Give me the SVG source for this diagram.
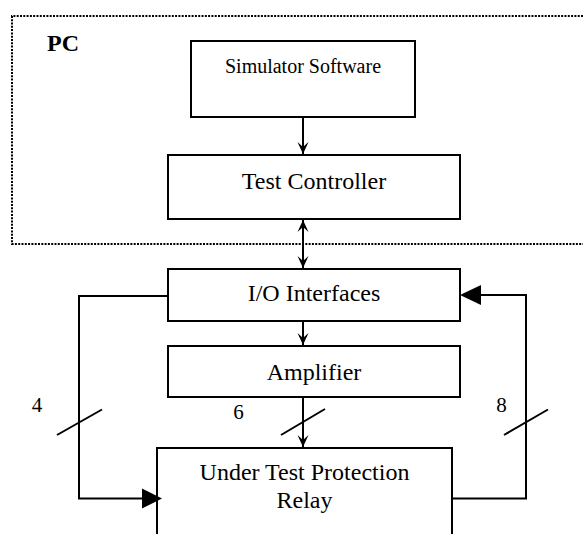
<svg xmlns="http://www.w3.org/2000/svg" width="583" height="534" viewBox="0 0 583 534">
<style>
.box{fill:#fff;stroke:#000;stroke-width:2}
.ln{fill:none;stroke:#000;stroke-width:2}
.t{font-family:"Liberation Serif","Times New Roman",serif;font-size:24px;fill:#000;text-anchor:middle}
.s{font-size:20px}
.n{font-size:21px}
</style>
<defs>
<marker id="ah" markerUnits="userSpaceOnUse" markerWidth="14" markerHeight="12" viewBox="-13 -6 14 12" refX="0" refY="0" orient="auto-start-reverse">
<path d="M0,0 L-12,-5.5 L-7,0 L-12,5.5 Z" fill="#000"/>
</marker>
</defs>
<g id="pc-boundary">
<path d="M583,16 H12 V244 H583" fill="none" stroke="#000" stroke-width="2" stroke-dasharray="2 1.3"/>
<text x="47" y="51" class="t" style="text-anchor:start;font-weight:bold">PC</text>
</g>
<g id="simulator">
<rect class="box" x="191" y="41" width="224" height="76"/>
<text class="t s" x="303" y="73">Simulator Software</text>
</g>
<g id="test-controller">
<rect class="box" x="168" y="155" width="292" height="64"/>
<text class="t" x="314" y="189">Test Controller</text>
</g>
<g id="io-interfaces">
<rect class="box" x="168" y="269" width="292" height="52"/>
<text class="t" x="314" y="301">I/O Interfaces</text>
</g>
<g id="amplifier">
<rect class="box" x="168" y="346" width="292" height="51"/>
<text class="t" x="314" y="380">Amplifier</text>
</g>
<g id="relay">
<rect class="box" x="157" y="448" width="295" height="100"/>
<text class="t" x="304.5" y="480">Under Test Protection</text>
<text class="t" x="304.5" y="508">Relay</text>
</g>
<g id="connectors">
<line class="ln" x1="303" y1="117" x2="303" y2="154" marker-end="url(#ah)"/>
<line class="ln" x1="303" y1="220" x2="303" y2="268" marker-start="url(#ah)" marker-end="url(#ah)"/>
<line class="ln" x1="303" y1="321" x2="303" y2="345" marker-end="url(#ah)"/>
<line class="ln" x1="303" y1="397" x2="303" y2="447" marker-end="url(#ah)"/>
<polyline class="ln" points="168,296 79,296 79,498.5 144,498.5"/>
<path d="M142,488.5 L162,498.5 L142,508.5 Z" fill="#000"/>
<polyline class="ln" points="452,498.5 526,498.5 526,295 479,295"/>
<path d="M481,285 L460,295 L481,305 Z" fill="#000"/>
<line class="ln" x1="57" y1="435" x2="102" y2="409.5"/>
<line class="ln" x1="281" y1="435" x2="325" y2="409"/>
<line class="ln" x1="504" y1="435" x2="548" y2="409.5"/>
<text class="t n" x="37" y="412">4</text>
<text class="t n" x="238.5" y="419">6</text>
<text class="t n" x="501.5" y="412">8</text>
</g>
</svg>
